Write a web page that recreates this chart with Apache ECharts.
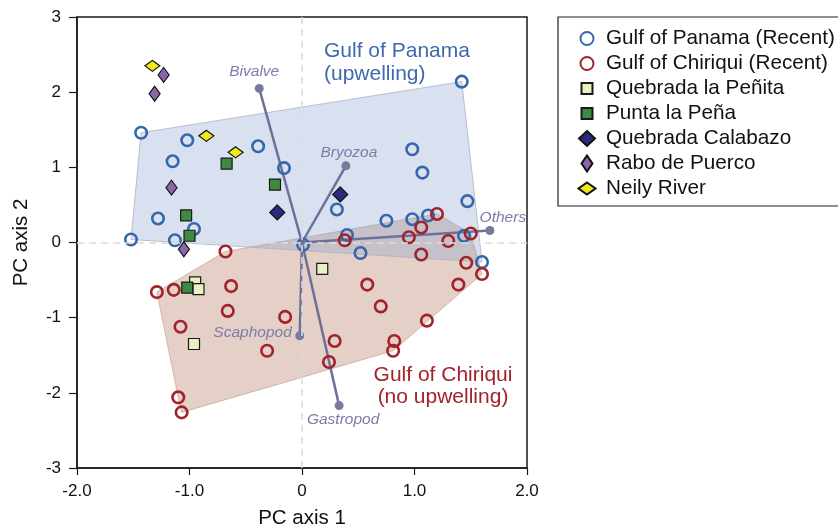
<!DOCTYPE html>
<html>
<head>
<meta charset="utf-8">
<script src="https://cdn.jsdelivr.net/npm/echarts@6/dist/echarts.min.js"></script>
<style>
  html, body { margin: 0; padding: 0; background: #fff; }
  #chart { width: 838px; height: 528px; }
</style>
</head>
<body>
<div id="chart"></div>
<script>
var myChart = echarts.init(document.getElementById('chart'));

// ---- data (PC1, PC2) ----
var panamaRecent = [
    [-1.43, 1.46], [-1.02, 1.36], [-0.39, 1.28], [-1.15, 1.08], [-0.16, 0.99],
    [-1.28, 0.32], [-0.96, 0.18], [-1.52, 0.04], [-1.13, 0.03], [0.01, -0.03],
    [1.42, 2.14], [0.98, 1.24], [1.07, 0.93], [0.31, 0.44], [1.47, 0.55],
    [0.75, 0.29], [0.98, 0.31], [1.12, 0.36], [0.40, 0.10], [1.44, 0.09],
    [0.52, -0.14], [1.60, -0.26]
];
var chiriquiRecent = [
    [1.20, 0.38], [1.06, 0.20], [0.95, 0.07], [1.30, 0.02], [1.50, 0.12],
    [0.38, 0.03], [1.06, -0.16], [1.46, -0.27], [1.60, -0.42], [1.39, -0.56],
    [0.58, -0.56], [0.70, -0.85], [1.11, -1.04], [0.29, -1.31], [0.82, -1.31],
    [0.81, -1.44], [0.24, -1.59], [-0.68, -0.12], [-1.29, -0.66], [-1.14, -0.63],
    [-0.63, -0.58], [-0.66, -0.91], [-1.08, -1.12], [-0.15, -0.99], [-0.31, -1.44],
    [-1.10, -2.06], [-1.07, -2.26]
];
var quebradaPenita = [[-0.95, -0.53], [-0.92, -0.62], [-0.96, -1.35], [0.18, -0.35]];
var puntaPena = [[-0.67, 1.05], [-0.24, 0.77], [-1.03, 0.36], [-1.00, 0.09], [-1.02, -0.60]];
var quebradaCalabazo = [[-0.22, 0.40], [0.34, 0.64]];
var raboPuerco = [[-1.23, 2.23], [-1.31, 1.98], [-1.16, 0.73], [-1.05, -0.09]];
var neilyRiver = [[-1.33, 2.35], [-0.85, 1.42], [-0.59, 1.20]];

// loading vectors
var vectorNames = ['Bivalve', 'Bryozoa', 'Others', 'Scaphopod', 'Gastropod'];
var vectorEnds = [[-0.38, 2.05], [0.39, 1.02], [1.67, 0.16], [-0.02, -1.24], [0.33, -2.17]];

var xTicks = [-2, -1, 0, 1, 2];
var yTicks = [-3, -2, -1, 0, 1, 2, 3];

// label placement for the vectors (pixels)
var vecLabelPos = {
    Bivalve: { dx: -5, dy: -17, align: 'center' },
    Bryozoa: { dx: 3, dy: -13, align: 'center' },
    Others: { dx: 13, dy: -13, align: 'center' },
    Scaphopod: { dx: -8, dy: -3, align: 'right' },
    Gastropod: { dx: 4, dy: 14, align: 'center' }
};

var FONT = '"Liberation Sans", Arial, Helvetica, sans-serif';

// legend icons (padded so they keep their size inside the 16px box)
var ICON_CIRCLE = 'path://M-8,-8M-6.5,0A6.5,6.5,0,1,1,6.5,0A6.5,6.5,0,1,1,-6.5,0ZM8,8';
var ICON_SQUARE = 'path://M-8,-8M-5.5,-5.5L5.5,-5.5L5.5,5.5L-5.5,5.5ZM8,8';
var ICON_DIAMOND = 'path://M-8,-8M0,-7.5L8,0L0,7.5L-8,0ZM8,8';
var ICON_TALL = 'path://M-8,-8M0,-8L5.5,0L0,8L-5.5,0ZM8,8';
var ICON_FLAT = 'path://M-8,-8M0,-6L8.5,0L0,6L-8.5,0ZM8,8';

// convex hull (monotone chain)
function hull(pts) {
    var p = pts.slice().sort(function (a, b) { return a[0] - b[0] || a[1] - b[1]; });
    function cross(o, a, b) { return (a[0] - o[0]) * (b[1] - o[1]) - (a[1] - o[1]) * (b[0] - o[0]); }
    var lower = [], upper = [];
    for (var i = 0; i < p.length; i++) {
        while (lower.length >= 2 && cross(lower[lower.length - 2], lower[lower.length - 1], p[i]) <= 0) lower.pop();
        lower.push(p[i]);
    }
    for (var j = p.length - 1; j >= 0; j--) {
        while (upper.length >= 2 && cross(upper[upper.length - 2], upper[upper.length - 1], p[j]) <= 0) upper.pop();
        upper.push(p[j]);
    }
    upper.pop(); lower.pop();
    return lower.concat(upper);
}

function hullSeries(pts, fill, stroke, z) {
    var h = hull(pts);
    return {
        type: 'custom',
        silent: true,
        z: z,
        data: [[0, 0]],
        renderItem: function (params, api) {
            var poly = h.map(function (p) { return api.coord(p); });
            return {
                type: 'polygon',
                shape: { points: poly },
                style: { fill: fill, stroke: stroke, lineWidth: 1 }
            };
        }
    };
}

var vectorData = vectorEnds.map(function (v, i) { return [v[0], v[1], vectorNames[i]]; });

var option = {
    backgroundColor: '#fff',
    animation: false,
    grid: {
        left: 77, right: 311, top: 17, bottom: 60,
        outerBoundsMode: 'none',
        show: true, borderColor: '#1a1a1a', borderWidth: 1.5
    },
    xAxis: {
        type: 'value', min: -2, max: 2, interval: 1,
        axisLine: { onZero: false, lineStyle: { color: '#1a1a1a', width: 1.5 } },
        axisTick: { length: 7, lineStyle: { color: '#1a1a1a', width: 1.2 } },
        axisLabel: {
            margin: 15, fontSize: 17, color: '#111', fontFamily: FONT,
            formatter: function (v) { return v === 0 ? '0' : v.toFixed(1); }
        },
        splitLine: { show: false },
        name: 'PC axis 1', nameLocation: 'middle', nameGap: 40,
        nameTextStyle: { fontSize: 20.5, color: '#111', fontFamily: FONT }
    },
    yAxis: {
        type: 'value', min: -3, max: 3, interval: 1,
        axisLine: { onZero: false, lineStyle: { color: '#1a1a1a', width: 1.5 } },
        axisTick: { length: 8, lineStyle: { color: '#1a1a1a', width: 1.2 } },
        axisLabel: { margin: 16, fontSize: 17, color: '#111', fontFamily: FONT },
        splitLine: { show: false },
        name: 'PC axis 2', nameLocation: 'middle', nameGap: 45,
        nameTextStyle: { fontSize: 20.5, color: '#111', fontFamily: FONT }
    },
    legend: {
        orient: 'vertical',
        left: 558, top: 17,
        padding: [11, 10, 7, 19.5],
        borderColor: '#222', borderWidth: 1.2,
        itemGap: 4, itemWidth: 28, itemHeight: 16,
        textStyle: { fontSize: 20.7, color: '#111', fontFamily: FONT },
        data: [
            { name: 'Gulf of Panama (Recent)', icon: ICON_CIRCLE },
            { name: 'Gulf of Chiriqui (Recent)', icon: ICON_CIRCLE },
            { name: 'Quebrada la Peñita', icon: ICON_SQUARE },
            { name: 'Punta la Peña', icon: ICON_SQUARE },
            { name: 'Quebrada Calabazo', icon: ICON_DIAMOND },
            { name: 'Rabo de Puerco', icon: ICON_TALL },
            { name: 'Neily River', icon: ICON_FLAT }
        ]
    },
    graphic: [
        {
            type: 'text', x: 324, y: 40, silent: true,
            style: { text: 'Gulf of Panama\n(upwelling)', fill: '#3d69ad', font: '21px ' + FONT, lineHeight: 23, align: 'left', verticalAlign: 'top' }
        },
        {
            type: 'text', x: 443, y: 364, silent: true,
            style: { text: 'Gulf of Chiriqui\n(no upwelling)', fill: '#a3222b', font: '21px ' + FONT, lineHeight: 22, align: 'center', verticalAlign: 'top' }
        }
    ],
    series: [
        hullSeries(chiriquiRecent, 'rgb(228,208,198)', 'rgba(200,170,160,0.8)', 1),
        hullSeries(panamaRecent, 'rgba(128,154,208,0.3)', 'rgba(170,178,200,0.8)', 1),
        {
            type: 'scatter', data: [], silent: true, z: 2,
            markLine: {
                silent: true, symbol: 'none', animation: false,
                label: { show: false },
                lineStyle: { type: [7, 5], color: '#dcdcdc', width: 1.5 },
                data: [{ xAxis: 0 }, { yAxis: 0 }]
            }
        },
        {
            type: 'custom', z: 3, silent: true,
            data: vectorData,
            renderItem: function (params, api) {
                var o = api.coord([0, 0]);
                var e = api.coord([api.value(0), api.value(1)]);
                var name = vectorNames[params.dataIndex];
                var lp = vecLabelPos[name];
                return {
                    type: 'group',
                    children: [
                        { type: 'line', shape: { x1: o[0], y1: o[1], x2: e[0], y2: e[1] },
                          style: { stroke: '#6e7099', lineWidth: 2.5 } },
                        { type: 'circle', shape: { cx: e[0], cy: e[1], r: 4.5 },
                          style: { fill: '#777a9f' } },
                        { type: 'text', x: e[0] + lp.dx, y: e[1] + lp.dy,
                          style: { text: name, fill: '#7b7da8', font: 'italic 15.5px ' + FONT,
                                   align: lp.align, verticalAlign: 'middle' } }
                    ]
                };
            }
        },
        {
            name: 'Gulf of Panama (Recent)', type: 'scatter', z: 4, data: panamaRecent,
            symbol: 'circle', symbolSize: 11.5,
            itemStyle: { color: 'rgba(255,255,255,0)', borderColor: '#3767ab', borderWidth: 2.6, opacity: 1 }
        },
        {
            name: 'Gulf of Chiriqui (Recent)', type: 'scatter', z: 4, data: chiriquiRecent,
            symbol: 'circle', symbolSize: 11.5,
            itemStyle: { color: 'rgba(255,255,255,0)', borderColor: '#a1222b', borderWidth: 2.6, opacity: 1 }
        },
        {
            name: 'Quebrada la Peñita', type: 'scatter', z: 5, data: quebradaPenita,
            symbol: 'rect', symbolSize: 11,
            itemStyle: { color: '#e9f0c3', borderColor: '#1a1a1a', borderWidth: 1.2, opacity: 1 }
        },
        {
            name: 'Punta la Peña', type: 'scatter', z: 5, data: puntaPena,
            symbol: 'rect', symbolSize: 11,
            itemStyle: { color: '#3e8a40', borderColor: '#1a1a1a', borderWidth: 1.2, opacity: 1 }
        },
        {
            name: 'Quebrada Calabazo', type: 'scatter', z: 5, data: quebradaCalabazo,
            symbol: 'diamond', symbolSize: 15,
            itemStyle: { color: '#2b2b7c', borderColor: '#111', borderWidth: 1.2, opacity: 1 }
        },
        {
            name: 'Rabo de Puerco', type: 'scatter', z: 5, data: raboPuerco,
            symbol: 'diamond', symbolSize: [11, 15],
            itemStyle: { color: '#8c64aa', borderColor: '#111', borderWidth: 1.2, opacity: 1 }
        },
        {
            name: 'Neily River', type: 'scatter', z: 5, data: neilyRiver,
            symbol: 'diamond', symbolSize: [15, 11],
            itemStyle: { color: '#f3e81c', borderColor: '#111', borderWidth: 1.2, opacity: 1 }
        }
    ]
};
myChart.setOption(option);
</script>
</body>
</html>
